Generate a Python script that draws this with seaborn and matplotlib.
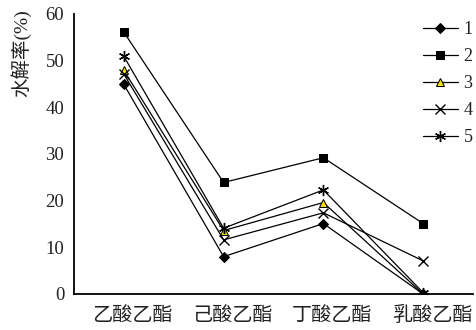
import matplotlib
matplotlib.use("Agg")
import matplotlib.pyplot as plt
import matplotlib.transforms as mtransforms
import seaborn as sns
import pandas as pd
import numpy as np

# Esters and hydrolysis rates (%) for the five conditions
esters = ["乙酸乙酯", "己酸乙酯", "丁酸乙酯", "乳酸乙酯"]
series_names = ["1", "2", "3", "4", "5"]
s1 = [44.9, 8.0, 15.1, 0.0]
s2 = [56.1, 23.9, 29.2, 15.1]
s3 = [47.9, 13.6, 19.6, 0.0]
s4 = [47.1, 11.6, 17.4, 7.1]
s5 = [50.9, 14.1, 22.3, 0.3]
values = [s1, s2, s3, s4, s5]
yticks = [0, 10, 20, 30, 40, 50, 60]

sns.set_style("white")
plt.rcParams["font.family"] = ["Liberation Serif", "Noto Sans CJK SC"]

rows = []
for name, vals in zip(series_names, values):
    for i, (e, v) in enumerate(zip(esters, vals)):
        rows.append({"pos": i, "ester": e, "series": name, "rate": v})
df = pd.DataFrame(rows)

styles = {
    "1": dict(marker="D", markersize=5, markerfacecolor="black"),
    "2": dict(marker="s", markersize=6, markerfacecolor="black"),
    "3": dict(marker="^", markersize=6, markerfacecolor="#f5e400"),
    "4": dict(marker="x", markersize=7, markerfacecolor="none", markeredgewidth=1.0),
    "5": dict(marker=(6, 2, 0), markersize=8, markerfacecolor="none", markeredgewidth=1.0),
}

fig = plt.figure(figsize=(4.76, 3.30), dpi=100)
ax = fig.add_axes([74 / 476, 36 / 330, 399 / 476, 280 / 330])

for name in series_names:
    sub = df[df["series"] == name]
    sns.lineplot(data=sub, x="pos", y="rate", ax=ax, color="black",
                 linewidth=0.9, markeredgecolor="black", label=name,
                 **styles[name])

ax.set_xlim(-0.5, 3.5)
ax.set_ylim(0, 60)
ax.set_xticks([-0.5, 0.5, 1.5, 2.5, 3.5])
ax.set_xticklabels([])
ax.set_xticks(range(len(esters)), minor=True)
ax.set_xticklabels(esters, minor=True, fontsize=14.5, color="#222222")
ax.tick_params(axis="x", which="minor", length=0, pad=9)
ax.tick_params(axis="x", which="major", direction="in", length=6, width=1.2)
# category names sit slightly right of their points
shift = mtransforms.ScaledTranslation(9 / 100, 0, fig.dpi_scale_trans)
for lbl in ax.xaxis.get_minorticklabels():
    lbl.set_transform(lbl.get_transform() + shift)

ax.set_yticks(yticks)
ax.set_yticklabels([str(t) for t in yticks], fontsize=13.5, color="#222222")
ax.tick_params(axis="y", direction="in", length=6, width=1.2, pad=7)

for side in ["top", "right"]:
    ax.spines[side].set_visible(False)
for side in ["left", "bottom"]:
    ax.spines[side].set_linewidth(1.3)
    ax.spines[side].set_color("black")

ax.set_xlabel("")
ax.set_ylabel("水解率(%)", fontsize=14, color="#222222")
ax.yaxis.set_label_coords(-0.108, 0.86)

leg = ax.legend(loc="upper right", bbox_to_anchor=(1.017, 1.0), frameon=False,
                fontsize=13, handlelength=1.95, handletextpad=0.3,
                labelspacing=0.55, borderaxespad=0.0)
for t in leg.get_texts():
    t.set_color("#222222")

fig.savefig("out.png", dpi=100)
